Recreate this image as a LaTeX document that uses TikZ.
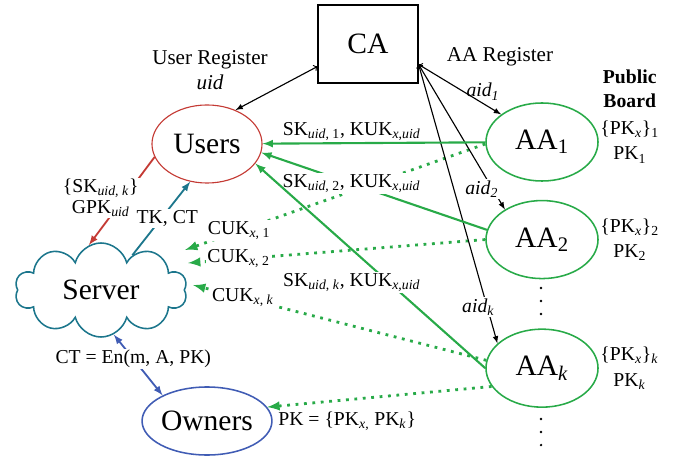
\documentclass[tikz,border=0pt]{standalone}
\usepackage{fontspec}
\setmainfont{Liberation Serif}
\usetikzlibrary{arrows,positioning,shapes.geometric,shapes.symbols}

\definecolor{usrred}{RGB}{196,58,52}
\definecolor{srvteal}{RGB}{28,118,140}
\definecolor{ownblue}{RGB}{64,92,180}
\definecolor{aagreen}{RGB}{40,170,72}
\newcommand{\sbs}[1]{\textsubscript{#1}}

\begin{document}
\begin{tikzpicture}
		[x=0.025cm, y=-0.025cm,
		authority/.style	= {draw, rectangle, thick, minimum width=25mm, minimum height=19.5mm, font=\fontsize{21}{24}\selectfont},
		party/.style		= {draw, ellipse, line width=1.1pt, inner sep=0pt, minimum width=27.5mm, minimum height=19.5mm, font=\fontsize{21}{24}\selectfont},
		attr/.style			= {party, draw=aagreen, minimum width=28mm},
		cloudy/.style		= {draw=srvteal, cloud, cloud puffs=10, shape border rotate=18, cloud ignores aspect, line width=1.1pt, minimum width=43mm, minimum height=23.5mm, font=\fontsize{21}{24}\selectfont},
		lbl/.style			= {font=\fontsize{14}{18}\selectfont, text=black, inner sep=1pt, align=center},
		reg/.style			= {lbl, font=\fontsize{15}{18}\selectfont},
		blank/.style		= {lbl, fill=white},
		key/.style			= {aagreen, line width=1.5pt, -latex},
		upd/.style			= {aagreen, line width=2pt, dash pattern=on 2pt off 4pt, -latex}]

		\useasboundingbox (0,0) rectangle (674,457);

		\node [authority]					at (368,44)		(ca)		{CA};
		\node [party, draw=usrred, thick]	at (207,144)	(users)		{Users};
		\node [attr]						at (542,142)	(aa1)		{AA\sbs{1}};
		\node [attr]	[below = 4.5mm of aa1]				(aa2)		{AA\sbs{2}};
		\node [attr]	[below = 12.25mm of aa2]			(aak)		{AA\sbs{\textit{k}}};
		\node [cloudy]						at (101,290)	(server)	{Server};
		\node [party, draw=ownblue, minimum height=17mm] at (207,421) (owners) {Owners};

		\node [reg]		at (210,70)		(ureg)	{User Register\\\textit{uid}};
		\node [reg]		at (500,57)		(areg)	{AA Register};
		\node [lbl]	[right = 0mm of aa1]	(pk1)	{\{PK\sbs{\textit{x}}\}\sbs{1}\\PK\sbs{1}};
		\node [lbl]	[right = 0mm of aa2]	(pk2)	{\{PK\sbs{\textit{x}}\}\sbs{2}\\PK\sbs{2}};
		\node [lbl]	[right = 0mm of aak]	(pkk)	{\{PK\sbs{\textit{x}}\}\sbs{\textit{k}}\\PK\sbs{\textit{k}}};
		\node [lbl, font=\fontsize{14}{17}\selectfont\bfseries]	[above = 2.5mm of pk1]	(board)	{Public\\Board};
		\node [lbl]	[right = 1mm of owners]	(pkall)	{PK = \{PK\sbs{\textit{x},} PK\sbs{\textit{k}}\}};

		\fill (541,288) circle (0.9pt) (541,301) circle (0.9pt) (541,314) circle (0.9pt);
		\fill (541,419) circle (0.9pt) (541,432) circle (0.9pt) (541,445) circle (0.9pt);

		\draw [upd] (aa1.182) -- ([xshift=21mm, yshift=10mm]server.center) node [pos=0.82, blank] {CUK\sbs{\textit{x}, 1}};
		\draw [upd] (aa2.west) -- ([xshift=21.75mm, yshift=6.75mm]server.center) node [pos=0.83, blank] {CUK\sbs{\textit{x}, 2}};
		\draw [upd] (aak.172) -- ([xshift=23mm, yshift=1.25mm]server.center) node [pos=0.83, blank] {CUK\sbs{\textit{x}, \textit{k}}};
		\draw [upd] (aak.200) -- (owners.13);

		\draw [thick, latex-to] (users.50) -- (ca.204);
		\draw [thick, to-latex] (ca.338) -- (aa1.146) node [pos=0.78, above=1pt, lbl] {\textit{aid\sbs{1}}};
		\draw [thick, to-latex] (ca.338) -- (aa2.141) node [pos=0.86, blank, xshift=-2.75mm] {\textit{aid\sbs{2}}};
		\draw [thick, to-latex] (ca.338) -- (aak.151) node [pos=0.87, blank, xshift=-2.25mm] {\textit{aid\sbs{k}}};

		\draw [key] (aa1) -- (users) node [pos=0.6, above=0pt, lbl] {SK\sbs{\textit{uid}, 1}, KUK\sbs{\textit{x},\textit{uid}}};
		\draw [key] (aa2.170) -- (users.351) node [pos=0.6, blank] {SK\sbs{\textit{uid}, 2}, KUK\sbs{\textit{x},\textit{uid}}};
		\draw [key] (aak.west) -- (users.338) node [pos=0.42, blank, xshift=-9.25mm] {SK\sbs{\textit{uid}, \textit{k}}, KUK\sbs{\textit{x},\textit{uid}}};

		\draw [usrred, line width=1.3pt, -latex] (users.194) -- (server.105) node [pos=0.5, blank, xshift=-5.25mm, yshift=0.75mm, font=\fontsize{14}{15}\selectfont] {\{SK\sbs{\textit{uid, k}}\}\\GPK\sbs{\textit{uid}}};
		\draw [srvteal, line width=1.3pt, -latex] (server.48) -- (users.246) node [pos=0.5, blank, xshift=1.5mm] {TK, CT};
		\draw [ownblue, line width=1.3pt, latex-latex] (server.286) -- (owners.150) node [pos=0.4, blank] {CT = En(m, A, PK)};
		\end{tikzpicture}
\end{document}
